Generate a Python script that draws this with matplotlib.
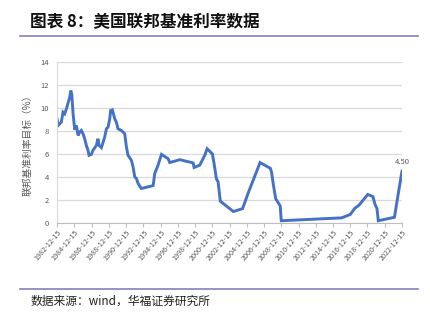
import matplotlib
matplotlib.use("Agg")
import matplotlib.pyplot as plt
import pandas as pd

plt.rcParams['font.family'] = ['Noto Sans CJK SC', 'DejaVu Sans']

# --- data ---
dates = [
    "1982-12-15", "1983-02-01", "1983-06-15", "1983-08-25", "1983-11-05",
    "1984-01-15", "1984-06-05", "1984-07-20", "1984-08-30", "1984-10-25",
    "1985-01-05", "1985-03-15", "1985-05-25", "1985-08-01", "1985-10-10",
    "1985-12-20", "1986-03-01", "1986-05-10", "1986-07-20", "1986-09-01",
    "1986-12-10", "1987-02-15", "1987-07-10", "1987-09-15", "1987-10-30",
    "1988-02-05", "1988-06-25", "1988-09-05", "1988-11-15", "1989-01-25",
    "1989-03-05", "1989-05-15", "1989-08-25", "1989-11-01", "1990-01-10",
    "1990-06-01", "1990-10-20", "1991-01-01", "1991-03-10", "1991-07-30",
    "1991-10-10", "1991-12-20", "1992-03-01", "1992-05-10", "1992-09-25",
    "1994-02-05", "1994-04-15", "1994-09-01", "1995-01-25", "1995-10-30",
    "1996-01-10", "1997-03-10", "1998-09-25", "1998-11-05", "1999-07-01",
    "2000-02-01", "2000-05-10", "2000-12-20", "2001-03-25", "2001-06-05",
    "2001-08-20", "2001-11-20", "2003-05-25", "2004-06-20", "2005-02-05",
    "2005-11-25", "2006-07-01", "2007-09-10", "2007-11-01", "2008-01-25",
    "2008-04-25", "2008-10-30", "2008-12-16", "2015-12-20", "2016-12-20",
    "2017-06-20", "2017-12-20", "2018-12-25", "2019-07-31", "2019-11-01",
    "2020-01-20", "2020-03-16", "2022-01-30", "2022-06-20", "2022-12-15",
]
rates = [
    9.05, 8.47, 8.76, 9.62, 9.48,
    9.91, 10.92, 11.50, 11.20, 9.48,
    8.10, 8.47, 7.60, 7.90, 8.04,
    7.75, 7.32, 6.74, 6.31, 5.88,
    5.96, 6.31, 6.74, 7.32, 6.74,
    6.54, 7.46, 8.18, 8.33, 9.05,
    9.77, 9.83, 9.05, 8.76, 8.18,
    8.04, 7.75, 6.60, 5.88, 5.45,
    4.87, 4.00, 3.86, 3.43, 3.00,
    3.25, 4.30, 5.02, 5.96, 5.59,
    5.25, 5.50, 5.22, 4.82, 5.02,
    5.88, 6.45, 6.00, 4.87, 3.86,
    3.57, 1.90, 1.00, 1.25, 2.56,
    4.10, 5.25, 4.75, 4.40, 3.20,
    2.10, 1.50, 0.20, 0.45, 0.75,
    1.27, 1.55, 2.48, 2.30, 1.60,
    1.27, 0.20, 0.50, 2.30, 4.50,
]
tick_years = list(range(1982, 2023, 2))
tick_labels = [f"{y}-12-15" for y in tick_years]
last_label = "4.50"

title = "图表 8：美国联邦基准利率数据"
ylabel = "联邦基准利率目标（%）"
source = "数据来源：wind，华福证券研究所"

x = pd.to_datetime(dates)
ticks = pd.to_datetime(tick_labels)

fig = plt.figure(figsize=(4.31, 3.2), dpi=100)
ax = fig.add_axes([0.1323, 0.303, 0.8004, 0.504])

ax.plot(x, rates, color='#4472C4', lw=2.1, solid_joinstyle='miter')

ax.set_ylim(0, 14)
ax.set_yticks(range(0, 15, 2))
ax.set_xlim(ticks[0], ticks[-1])
ax.set_xticks(ticks)
ax.set_xticklabels(tick_labels, rotation=50, ha='right', rotation_mode='anchor')

ax.grid(axis='y', color='#d9d9d9', lw=0.9)
ax.set_axisbelow(True)
for s in ['top', 'right']:
    ax.spines[s].set_visible(False)
ax.spines['left'].set_color('#d9d9d9')
ax.spines['bottom'].set_color('#bfbfbf')
ax.tick_params(axis='y', length=0, labelsize=5.5, labelcolor='#595959', pad=6)
ax.tick_params(axis='x', length=3, color='#bfbfbf', labelsize=5.2,
               labelcolor='#595959', pad=1)

ax.set_ylabel(ylabel, fontsize=7, color='#595959')
ax.yaxis.set_label_coords(-0.07, 0.5)

# value label on last point
ax.annotate(last_label, (x[-1], rates[-1]), xytext=(0, 4),
            textcoords='offset points', ha='center', va='bottom',
            fontsize=5.5, color='#595959')

# header / footer
fig.text(0.07, 0.93, title, fontsize=12, fontweight='bold', va='center',
         color='#111111')
fig.add_artist(plt.Line2D([0.046, 0.97], [0.887, 0.887], color='#8080c0', lw=1.2))
fig.add_artist(plt.Line2D([0.046, 0.97], [0.097, 0.097], color='#8080c0', lw=1.2))
fig.text(0.07, 0.058, source, fontsize=8.5, va='center', color='#222222')

fig.savefig("out.png", dpi=100)
